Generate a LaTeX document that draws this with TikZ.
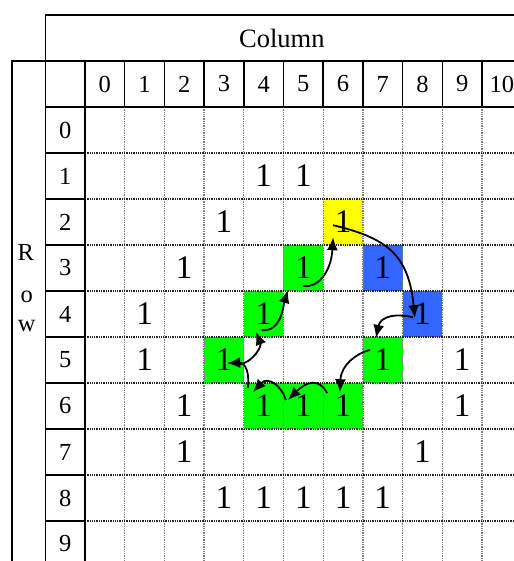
\documentclass[tikz,border=0pt]{standalone}
\usepackage{fontspec}
\setmainfont{Liberation Serif}
\usetikzlibrary{arrows.meta,calc}
\definecolor{cellgreen}{RGB}{0,255,0}
\definecolor{cellblue}{RGB}{51,102,255}
\definecolor{cellyellow}{RGB}{255,255,0}
\tikzset{hdr/.style={font=\fontsize{24.5}{28}\selectfont,inner sep=0pt},
  ttl/.style={font=\fontsize{26.5}{30}\selectfont,inner sep=0pt},
  one/.style={font=\fontsize{33}{37}\selectfont,inner sep=0pt},
  rule/.style={line width=1.5pt},
  dotrule/.style={line width=1.3pt,densely dotted},
  flow/.style={-{Latex[length=13pt,width=11pt]},line width=1.8pt}}

\begin{document}
\begin{tikzpicture}[x=39.7pt,y=-46pt]
\useasboundingbox (-2.141,-2.326) rectangle (10.806,9.870);
\clip (-2.141,-2.326) rectangle (10.806,9.870);
% --- coloured cells
\fill[cellyellow] (6,2) rectangle +(1,1);
\foreach \c/\r in {7/3,8/4} \fill[cellblue] (\c,\r) rectangle +(1,1);
\foreach \c/\r in {5/3,4/4,3/5,7/5,4/6,5/6,6/6} \fill[cellgreen] (\c,\r) rectangle +(1,1);
% --- inner grid, dotted
\foreach \i in {1,...,10} \draw[dotrule,gray] (\i,0) -- (\i,10);
\foreach \j in {1,...,9} \draw[dotrule,black!85] (0,\j) -- (11,\j);
% --- frame and header lines
\draw[rule] (11,-2) -- (-1,-2) -- (-1,10);
\draw[rule] (-1.86,-1) -- (11,-1); \draw[rule] (-1.84,-1) -- (-1.84,10);
\draw[rule] (-1,0) -- (11,0); \draw[rule] (0,-1) -- (0,10);
\foreach \i in {1,...,10} \draw[rule] (\i,-1) -- (\i,0);
\foreach \j in {1,...,9} \draw[rule] (-1,\j) -- (0,\j);
% --- labels
\node[ttl] (coltitle) at (4.96,-1.5) {Column};
\node[hdr,anchor=base] (rowR) at (-1.49,3.33) {R};
\node[hdr,anchor=base] (rowo) at (-1.47,4.24) {o};
\node[hdr,anchor=base] (roww) at (-1.47,4.89) {w};
\foreach \c in {0,...,10} \node[hdr] (col-\c) at (\c+0.5,-0.5) {\c};
\foreach \r in {0,...,9} \node[hdr] (row-\r) at (-0.5,\r+0.5) {\r};
% --- the ones
\foreach \c/\r in {4/1,5/1,3/2,6/2,2/3,5/3,7/3,1/4,4/4,8/4,1/5,3/5,7/5,9/5,2/6,4/6,5/6,6/6,9/6,2/7,8/7,3/8,4/8,5/8,6/8,7/8}
  \node[one] (one-\c-\r) at (\c+0.5,\r+0.5) {1};
% --- trace round the boundary
\draw[flow] ($(one-6-2)+(-0.25,0.07)$) .. controls +(1.35,0.28) and +(-0.16,-1.39) .. ($(one-8-4)+(-0.19,0.09)$);
\draw[flow] ($(one-8-4)+(-0.24,0.07)$) .. controls +(-0.66,-0.12) and +(0.09,-0.37) .. ($(one-7-5)+(-0.17,-0.48)$);
\draw[flow] ($(one-7-5)+(-0.32,-0.22)$) .. controls +(-0.33,0.07) and +(0.03,-0.6) .. ($(one-6-6)+(-0.08,-0.3)$);
\draw[flow] ($(one-6-6)+(-0.4,-0.28)$) .. controls +(-0.2,-0.32) and +(0.49,-0.42) .. ($(one-5-6)+(-0.39,-0.13)$);
\draw[flow] ($(one-5-6)+(-0.44,-0.13)$) .. controls +(-0.11,-0.32) and +(0.37,-0.35) .. ($(one-4-6)+(-0.27,-0.3)$);
\draw[flow] ($(one-4-6)+(-0.4,-0.39)$) .. controls +(0.05,-0.31) and +(0.47,-0.02) .. ($(one-3-5)+(0.08,0.07)$);
\draw[flow] ($(one-3-5)+(0.35,0.11)$) .. controls +(0.4,-0.06) and +(0.14,0.31) .. ($(one-4-4)+(-0.19,0.39)$);
\draw[flow] ($(one-4-4)+(-0.05,0.35)$) .. controls +(0.5,0.05) and +(-0.11,0.32) .. ($(one-5-3)+(-0.39,0.48)$);
\draw[flow] ($(one-5-3)+(-0.01,0.39)$) .. controls +(0.36,0.06) and +(-0.05,0.77) .. ($(one-6-2)+(-0.25,0.33)$);
\end{tikzpicture}
\end{document}
